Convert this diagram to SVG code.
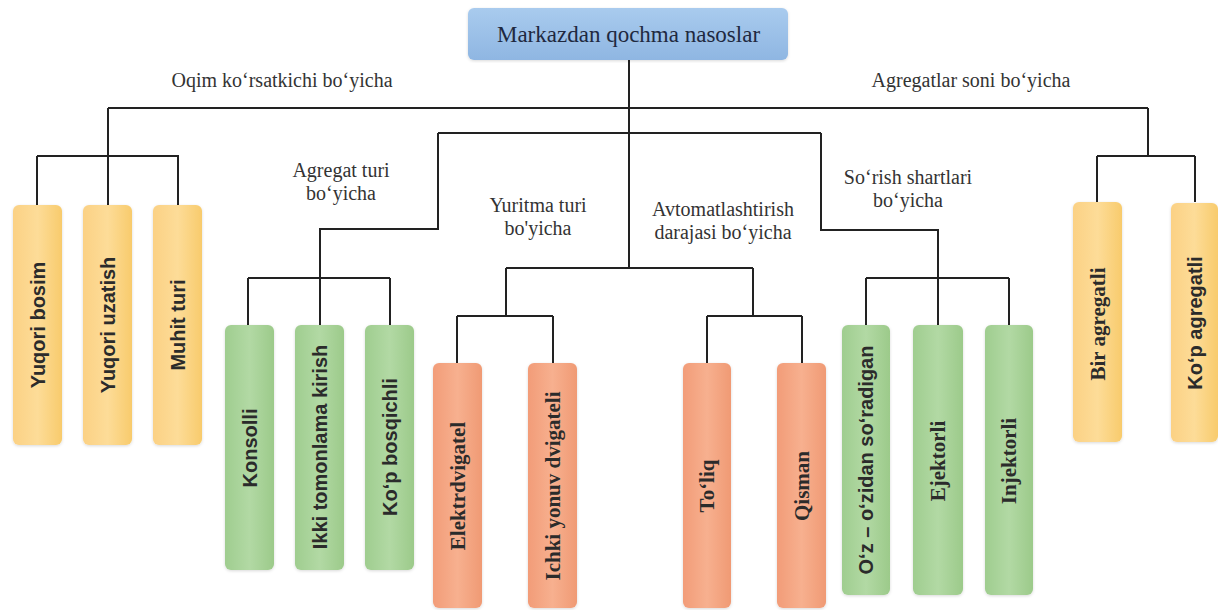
<svg xmlns="http://www.w3.org/2000/svg" width="1218" height="610" viewBox="0 0 1218 610">
<defs>
<linearGradient id="gY" x1="0" y1="0" x2="1" y2="0"><stop offset="0" stop-color="#fbd184"/><stop offset="0.5" stop-color="#fddc98"/><stop offset="1" stop-color="#f8cb6c"/></linearGradient>
<linearGradient id="gG" x1="0" y1="0" x2="1" y2="0"><stop offset="0" stop-color="#9fcd8f"/><stop offset="0.5" stop-color="#b2d9a4"/><stop offset="1" stop-color="#9cca8a"/></linearGradient>
<linearGradient id="gR" x1="0" y1="0" x2="1" y2="0"><stop offset="0" stop-color="#f29c78"/><stop offset="0.5" stop-color="#f7b08f"/><stop offset="1" stop-color="#f09a74"/></linearGradient>
<linearGradient id="gB" x1="0" y1="0" x2="0" y2="1"><stop offset="0" stop-color="#a9cbee"/><stop offset="1" stop-color="#8fb6e2"/></linearGradient>
<filter id="sh" x="-20%" y="-5%" width="140%" height="110%"><feDropShadow dx="0" dy="1" stdDeviation="1.5" flood-color="#000" flood-opacity="0.15"/></filter>
</defs>
<style>
.conn path{fill:none;stroke:#222;stroke-width:2}
.lbl{font-family:'Liberation Serif','Times New Roman',serif;font-size:20px;fill:#333;text-anchor:middle}
.y rect{fill:url(#gY);filter:url(#sh)}
.g rect{fill:url(#gG);filter:url(#sh)}
.r rect{fill:url(#gR);filter:url(#sh)}
.ns{font-family:'Liberation Sans',Arial,sans-serif;font-weight:bold;font-size:20px;fill:#2b2b2b;text-anchor:middle;dominant-baseline:central}
.nf{font-family:'Liberation Serif','Times New Roman',serif;font-weight:bold;font-size:21px;fill:#2b2b2b;text-anchor:middle;dominant-baseline:central}
.root{font-family:'Liberation Serif','Times New Roman',serif;font-size:23px;fill:#1f2940;text-anchor:middle}
</style>
<rect width="1218" height="610" fill="#ffffff"/>

<g class="conn">
<path d="M629 60V268"/>
<path d="M108 108H1148"/>
<path d="M108 108V156M37 156H179M37 156V205M108 156V205M178 156V205"/>
<path d="M1148 108V156M1097 156H1195M1097 156V202M1195 156V202"/>
<path d="M438 133H821"/>
<path d="M438 133V229H320V325M248 278H390M248 278V325M390 278V325"/>
<path d="M821 133V230H938V325M866 278H1009M866 278V325M1009 278V325"/>
<path d="M506 268H753M506 268V316M457 316H553M457 316V363M553 316V363"/>
<path d="M753 268V316M707 316H802M707 316V363M802 316V363"/>
</g>

<g id="labels">
<text class="lbl" x="282" y="87">Oqim ko‘rsatkichi bo‘yicha</text>
<text class="lbl" x="971" y="87">Agregatlar soni bo‘yicha</text>
<text class="lbl" x="341" y="177">Agregat turi</text>
<text class="lbl" x="341" y="200">bo‘yicha</text>
<text class="lbl" x="538" y="212">Yuritma turi</text>
<text class="lbl" x="538" y="235">bo'yicha</text>
<text class="lbl" x="723" y="216">Avtomatlashtirish</text>
<text class="lbl" x="723" y="239">darajasi bo‘yicha</text>
<text class="lbl" x="908" y="184">So‘rish shartlari</text>
<text class="lbl" x="908" y="207">bo‘yicha</text>
</g>

<g id="root">
<rect x="468" y="8" width="320" height="52" rx="6" fill="url(#gB)" filter="url(#sh)"/>
<text class="root" x="628.5" y="42">Markazdan qochma nasoslar</text>
</g>

<g id="n-yuqori-bosim" class="y"><rect x="13" y="205" width="49" height="240" rx="6"/><text class="ns" transform="translate(37.5 325) rotate(-90)">Yuqori bosim</text></g>
<g id="n-yuqori-uzatish" class="y"><rect x="83" y="205" width="49" height="240" rx="6"/><text class="ns" transform="translate(107.5 325) rotate(-90)">Yuqori uzatish</text></g>
<g id="n-muhit-turi" class="y"><rect x="153" y="205" width="49" height="240" rx="6"/><text class="ns" transform="translate(177.5 325) rotate(-90)">Muhit turi</text></g>

<g id="n-konsolli" class="g"><rect x="225" y="325" width="49" height="245" rx="6"/><text class="ns" transform="translate(249.5 448) rotate(-90)">Konsolli</text></g>
<g id="n-ikki" class="g"><rect x="295" y="325" width="49" height="245" rx="6"/><text class="ns" transform="translate(319.5 447) rotate(-90)">Ikki tomonlama kirish</text></g>
<g id="n-kop-bosqichli" class="g"><rect x="365" y="325" width="49" height="245" rx="6"/><text class="ns" transform="translate(389.5 447) rotate(-90)">Ko‘p bosqichli</text></g>

<g id="n-elektrdvigatel" class="r"><rect x="433" y="363" width="49" height="245" rx="6"/><text class="nf" transform="translate(457.5 486) rotate(-90)">Elektrdvigatel</text></g>
<g id="n-ichki" class="r"><rect x="528" y="363" width="49" height="245" rx="6"/><text class="nf" transform="translate(552.5 486) rotate(-90)">Ichki yonuv dvigateli</text></g>
<g id="n-toliq" class="r"><rect x="683" y="363" width="48" height="245" rx="6"/><text class="nf" transform="translate(707 486) rotate(-90)">To‘liq</text></g>
<g id="n-qisman" class="r"><rect x="777" y="363" width="49" height="245" rx="6"/><text class="nf" transform="translate(801.5 486) rotate(-90)">Qisman</text></g>

<g id="n-ozidan" class="g"><rect x="842" y="325" width="48" height="270" rx="6"/><text class="ns" transform="translate(866 460) rotate(-90)">O‘z – o‘zidan so‘radigan</text></g>
<g id="n-ejektorli" class="g"><rect x="913" y="325" width="50" height="270" rx="6"/><text class="nf" transform="translate(938 461) rotate(-90)">Ejektorli</text></g>
<g id="n-injektorli" class="g"><rect x="985" y="325" width="48" height="270" rx="6"/><text class="nf" transform="translate(1009 461) rotate(-90)">Injektorli</text></g>

<g id="n-bir-agregatli" class="y"><rect x="1073" y="202" width="49" height="240" rx="6"/><text class="nf" transform="translate(1097.5 324) rotate(-90)">Bir agregatli</text></g>
<g id="n-kop-agregatli" class="y"><rect x="1171" y="203" width="47" height="239" rx="6"/><text class="ns" transform="translate(1195 323) rotate(-90)">Ko‘p agregatli</text></g>
</svg>
